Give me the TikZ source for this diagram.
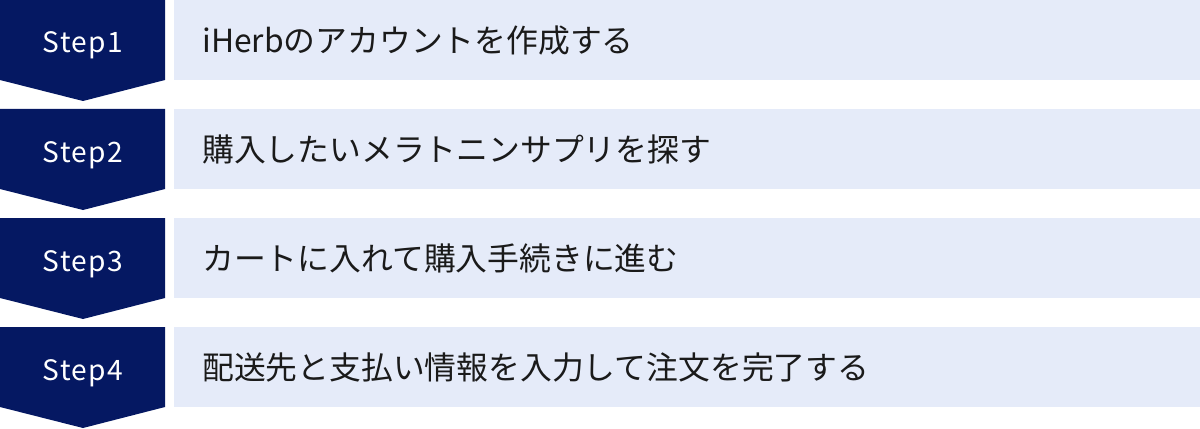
\documentclass[tikz,border=0pt]{standalone}
\usepackage{fontspec}
\setmainfont{Noto Sans}
\newfontfamily\stepfont[LetterSpace=5]{Noto Sans CJK JP}
\newfontfamily\jpfont{Noto Sans CJK JP}
\definecolor{navy}{RGB}{5,24,98}
\definecolor{chiaro}{RGB}{229,235,249}
\definecolor{testoscuro}{RGB}{26,26,26}
\tikzset{
  freccia/.style={fill=navy},
  etichetta/.style={text=white, font=\stepfont\fontsize{16pt}{18pt}\selectfont, inner sep=0pt, anchor=base},
  riga/.style={fill=chiaro, text=testoscuro, text width=19.4cm, inner xsep=0.56cm, inner ysep=0pt,
    minimum height=1.6cm, align=left, anchor=north west, font=\jpfont\fontsize{18.1pt}{20pt}\selectfont}
}
\begin{document}
\begin{tikzpicture}[x=0.02cm,y=-0.02cm]
        \useasboundingbox (0,0) rectangle (1200,429);

        % Frecce a sinistra, una per passo
        \fill[freccia] (0,0) -- (165,0) -- (165,80) -- (83,101) -- (0,80) -- cycle;
        \fill[freccia] (0,109) -- (165,109) -- (165,189) -- (83,210) -- (0,189) -- cycle;
        \fill[freccia] (0,218) -- (165,218) -- (165,298) -- (83,319) -- (0,298) -- cycle;
        \fill[freccia] (0,327) -- (165,327) -- (165,407) -- (83,428) -- (0,407) -- cycle;

        % Etichette dei passi
        \node[etichetta](step1) at (83,53) {Step1};
        \node[etichetta](step2) at (83,162) {Step2};
        \node[etichetta](step3) at (83,271) {Step3};
        \node[etichetta](step4) at (83,380) {Step4};

        % Righe con la descrizione
        \node[riga](r1) at (174,0) {iHerbのアカウントを作成する};
        \node[riga](r2) at (174,109) {購入したいメラトニンサプリを探す};
        \node[riga](r3) at (174,218) {カートに入れて購入手続きに進む};
        \node[riga](r4) at (174,327) {配送先と支払い情報を入力して注文を完了する};
    \end{tikzpicture}
\end{document}
